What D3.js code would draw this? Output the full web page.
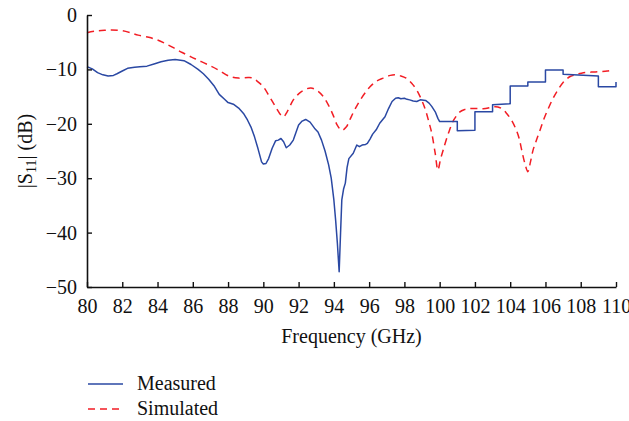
<!DOCTYPE html>
<html>
<head>
<meta charset="utf-8">
<script src="https://cdn.jsdelivr.net/npm/d3@7"></script>
<style>
html,body{margin:0;padding:0;background:#fff;}
svg text{font-family:"Liberation Serif","Times New Roman",serif;fill:#111;}
</style>
</head>
<body>
<svg id="chart" width="629" height="421"></svg>
<script>
// ---- data ----
const xTicks = [80,82,84,86,88,90,92,94,96,98,100,102,104,106,108,110];
const yTicks = [0,-10,-20,-30,-40,-50];
const seriesNames = ["Measured","Simulated"];

const measuredFreq = [80.0,80.3,80.6,80.9,81.2,81.5,81.7,82.0,82.3,82.7,83.0,83.4,83.8,84.2,84.6,85.0,85.5,85.9,86.3,86.6,86.9,87.2,87.5,87.8,88.0,88.3,88.6,88.9,89.1,89.3,89.5,89.7,89.9,90.0,90.15,90.3,90.5,90.7,90.85,91.0,91.15,91.3,91.5,91.7,91.85,92.0,92.2,92.4,92.65,92.9,93.1,93.3,93.5,93.7,93.85,94.0,94.1,94.2,94.3,94.38,94.45,94.55,94.65,94.75,94.85,95.1,95.3,95.45,95.6,95.8,95.9,96.05,96.2,96.4,96.6,96.9,97.1,97.3,97.5,97.65,97.8,98.0,98.15,98.3,98.5,98.7,98.9,99.2,99.4,99.55,99.75,99.9,100.0,101.0,101.0,102.0,102.0,103.0,103.0,104.0,104.0,105.0,105.0,106.0,106.0,107.0,107.0,109.0,109.0,110.0,110.0];
const measuredS11 = [-9.5,-9.9,-10.6,-11.0,-11.2,-11.1,-10.8,-10.3,-9.8,-9.6,-9.5,-9.4,-9.0,-8.6,-8.3,-8.2,-8.4,-9.1,-10.0,-10.8,-11.8,-13.0,-14.6,-15.5,-16.1,-16.4,-17.1,-18.2,-19.3,-20.6,-22.4,-24.6,-27.0,-27.4,-27.3,-26.4,-24.5,-23.1,-23.0,-22.7,-23.3,-24.4,-23.9,-23.0,-21.6,-20.2,-19.5,-19.2,-19.7,-20.8,-21.5,-23.0,-25.0,-27.5,-30.0,-34.0,-37.7,-42.0,-47.2,-40.0,-34.0,-32.0,-30.9,-28.0,-26.4,-25.4,-23.9,-24.2,-23.9,-23.8,-23.6,-22.8,-21.9,-21.1,-19.9,-18.7,-17.2,-15.9,-15.3,-15.2,-15.4,-15.3,-15.5,-15.6,-15.8,-15.9,-15.6,-15.7,-16.2,-16.8,-17.8,-19.0,-19.6,-19.6,-21.3,-21.2,-17.8,-17.8,-16.5,-16.3,-13.05,-13.05,-12.3,-12.3,-10.1,-10.1,-10.9,-11.2,-13.2,-13.2,-12.3];

const simulatedFreq = [80.0,80.5,81.0,81.4,82.0,82.5,82.9,83.5,84.0,84.6,85.0,85.4,85.9,86.3,86.9,87.45,88.1,88.6,89.15,89.4,89.7,90.0,90.35,90.7,91.0,91.15,91.35,91.7,92.0,92.3,92.7,93.1,93.4,93.7,93.97,94.2,94.45,94.7,94.9,95.2,95.5,95.8,96.05,96.4,96.8,97.2,97.5,97.8,98.1,98.4,98.7,99.0,99.2,99.4,99.55,99.75,99.9,100.05,100.2,100.5,100.8,101.15,101.4,101.7,102.2,102.6,103.0,103.3,103.6,103.8,104.05,104.3,104.5,104.65,104.85,105.0,105.15,105.3,105.5,105.7,105.95,106.2,106.45,106.7,107.0,107.4,107.8,108.15,108.6,109.1,109.5,109.85];
const simulatedS11 = [-3.25,-2.95,-2.8,-2.75,-2.9,-3.3,-3.7,-4.1,-4.6,-5.5,-6.2,-6.9,-7.7,-8.3,-9.2,-10.1,-11.3,-11.6,-11.5,-11.6,-12.3,-13.2,-15.0,-16.9,-18.4,-18.7,-17.8,-15.6,-14.5,-13.8,-13.4,-14.0,-15.0,-16.6,-18.5,-20.3,-21.2,-20.6,-19.3,-17.3,-15.6,-14.2,-13.2,-12.2,-11.6,-11.1,-11.0,-11.2,-11.6,-12.5,-13.8,-15.8,-17.5,-19.8,-21.7,-25.5,-28.5,-26.5,-24.8,-21.7,-19.3,-17.8,-17.4,-17.2,-17.2,-17.2,-16.9,-16.9,-17.4,-18.1,-19.2,-20.8,-22.6,-24.8,-27.5,-28.8,-27.0,-24.8,-22.9,-21.1,-18.8,-16.9,-15.2,-13.8,-12.4,-11.3,-10.9,-10.6,-10.5,-10.4,-10.3,-10.1];

// ---- layout ----
const svg = d3.select("#chart");
const mLeft = 87, mRight = 616, mTop = 15, mBottom = 287;
const x = d3.scaleLinear().domain([80,110]).range([mLeft,mRight]);
const y = d3.scaleLinear().domain([-50,0]).range([mBottom,mTop]);

const measured = measuredFreq.map((f,i)=>({f, v: measuredS11[i]}));
const simulated = simulatedFreq.map((f,i)=>({f, v: simulatedS11[i]}));

// lines
const lineM = d3.line().x(d=>x(d.f)).y(d=>y(d.v)).curve(d3.curveLinear);
const lineS = d3.line().x(d=>x(d.f)).y(d=>y(d.v)).curve(d3.curveCatmullRom.alpha(0.5));

svg.append("path").datum(simulated)
  .attr("d", lineS).attr("fill","none")
  .attr("stroke","#f21d24").attr("stroke-width",1.5)
  .attr("stroke-dasharray","7,5");

svg.append("path").datum(measured)
  .attr("d", lineM).attr("fill","none")
  .attr("stroke","#2a48a3").attr("stroke-width",1.5)
  .attr("stroke-linejoin","round");

// axes
const xAxis = d3.axisBottom(x).tickValues(xTicks).tickSizeInner(-5).tickSizeOuter(0).tickPadding(12).tickFormat(d3.format("d"));
const yAxis = d3.axisLeft(y).tickValues(yTicks).tickSizeInner(-5).tickSizeOuter(0).tickPadding(10);

const gx = svg.append("g").attr("transform",`translate(0,${mBottom})`).call(xAxis);
const gy = svg.append("g").attr("transform",`translate(${mLeft},0)`).call(yAxis);

[gx,gy].forEach(g=>{
  g.select(".domain").attr("stroke","#111").attr("stroke-width",1.6);
  g.selectAll(".tick line").attr("stroke","#111").attr("stroke-width",1.4);
  g.selectAll(".tick text").style("font-family",'"Liberation Serif",serif').style("font-size","20px").attr("fill","#111");
});
gx.selectAll(".tick text").attr("dy","0.71em");
gy.selectAll(".tick text").attr("dy","0.32em");

// axis titles
svg.append("text").attr("x",(mLeft+mRight)/2).attr("y",343)
  .attr("text-anchor","middle").style("font-size","20px").text("Frequency (GHz)");

const yl = svg.append("text")
  .attr("transform",`translate(32,${(mTop+mBottom)/2}) rotate(-90)`)
  .attr("text-anchor","middle").style("font-size","20px");
yl.append("tspan").text("|S");
yl.append("tspan").attr("baseline-shift","-25%").style("font-size","14px").text("11");
yl.append("tspan").text("| (dB)");

// legend
const legend = [
  {name: seriesNames[0], color:"#2a48a3", dash:null, y:384},
  {name: seriesNames[1], color:"#f21d24", dash:"7,5", y:409}
];
legend.forEach(l=>{
  svg.append("line").attr("x1",88).attr("x2",123).attr("y1",l.y).attr("y2",l.y)
    .attr("stroke",l.color).attr("stroke-width",1.5)
    .attr("stroke-dasharray",l.dash);
  svg.append("text").attr("x",137).attr("y",l.y+6).style("font-size","20px").text(l.name);
});
</script>
</body>
</html>
